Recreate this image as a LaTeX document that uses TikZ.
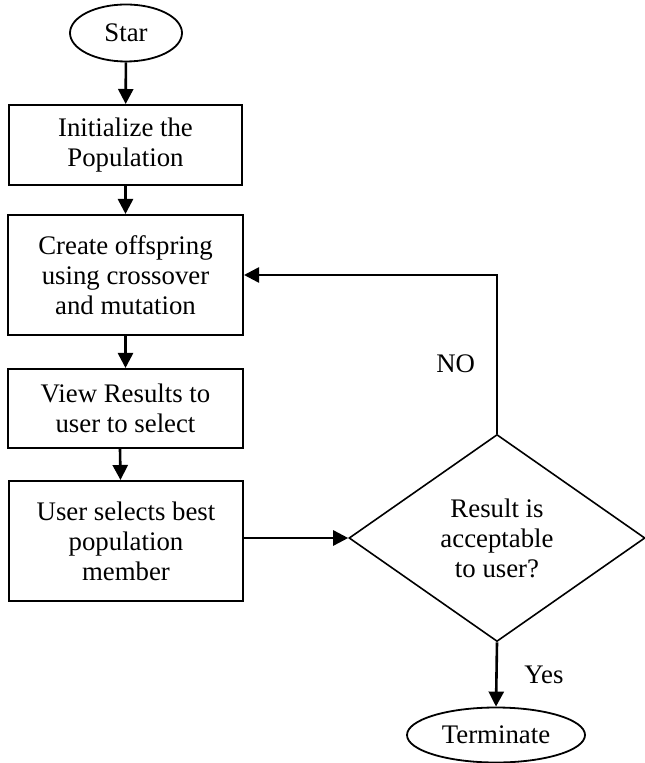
\documentclass[tikz,border=0pt]{standalone}
\usepackage{fontspec}
\setmainfont{Liberation Serif}
\usetikzlibrary{shapes.geometric,arrows.meta}

\begin{document}
\begin{tikzpicture}[
      x=0.5pt, y=-0.5pt,
      font=\fontsize{13.4}{15}\selectfont,
      box/.style={
        draw,
        line width=1pt,
        align=center,
        inner sep=0pt},
      term/.style={
        draw,
        ellipse,
        line width=0.9pt,
        inner sep=0pt},
      decision/.style={
        draw,
        diamond,
        line width=0.8pt,
        align=center,
        inner sep=0pt},
      flow/.style={
        line width=1.3pt,
        -{Triangle[length=7.5pt,width=7.5pt]}}]
    \useasboundingbox (0,0) rectangle (644,763);

    \node[term, minimum width=56pt, minimum height=28.5pt] (start) at (126,33) {Star};
    \node[box, minimum width=116.5pt, minimum height=40pt] (init) at (125.5,145) {Initialize the\\Population};
    \node[box, minimum width=117.5pt, minimum height=60pt] (offspring) at (125.5,275) {Create offspring\\using crossover\\and mutation};
    \node[box, minimum width=117.5pt, minimum height=39.5pt] (view) at (125.5,408.5) {View Results to\\user to select};
    \node[box, minimum width=117pt, minimum height=60pt] (select) at (126,541) {User selects best\\population\\member};
    \node[decision, minimum width=148pt, minimum height=103.5pt] (decide) at (497,538) {Result is\\acceptable\\to user?};
    \node[term, minimum width=89pt, minimum height=27.5pt] (stop) at (496,735) {Terminate};

    \draw [flow] (start) -- (init);
    \draw [flow] (init) -- (offspring);
    \draw [flow] (offspring) -- (view);
    \draw [flow] ([xshift=-2.75pt]view.south) -- ([xshift=-2.75pt]select.north);
    \draw [flow] (select.east |- decide.west) -- (decide.west);
    \draw [flow] (decide.north) |- node [pos=0.22, left=7pt] {NO} (offspring.east);
    \draw [flow] (decide.south) -- node [right=10pt] {Yes} (stop.north);
  \end{tikzpicture}
\end{document}
